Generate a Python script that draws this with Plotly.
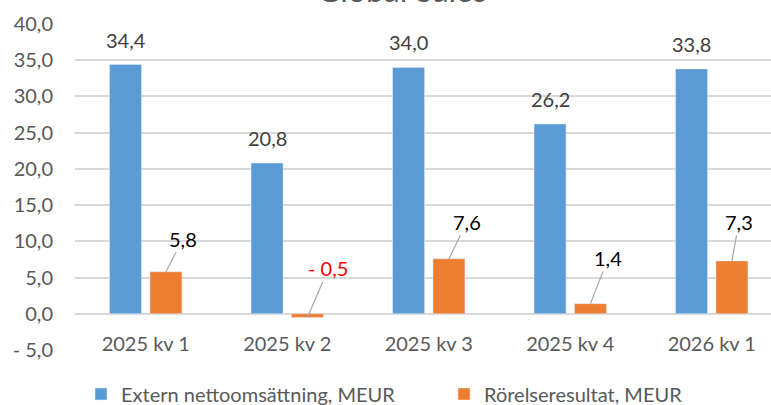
import plotly.graph_objects as go

# ---- data ----
categories = ["2025 kv 1", "2025 kv 2", "2025 kv 3", "2025 kv 4", "2026 kv 1"]
sales = [34.4, 20.8, 34.0, 26.2, 33.8]
ebit = [5.8, -0.5, 7.6, 1.4, 7.3]
sales_labels = ["34,4", "20,8", "34,0", "26,2", "33,8"]
ebit_labels = ["5,8", "- 0,5", "7,6", "1,4", "7,3"]
y_tick_vals = [-5, 0, 5, 10, 15, 20, 25, 30, 35, 40]
y_tick_text = ["- 5,0", "0,0", "5,0", "10,0", "15,0", "20,0", "25,0", "30,0", "35,0", "40,0"]
series_names = ["Extern nettoomsättning, MEUR", "Rörelseresultat, MEUR"]

# ---- style ----
BLUE = "#5B9BD5"
ORANGE = "#ED7D31"
GRID = "#D9D9D9"
TXT = "#595959"
FONT = "Lato, Open Sans, sans-serif"
W, H = 771, 405
# leader-label offsets in pixels (manual label placement)
ebit_label_dx = [17, 21, 18, 18, 7]
ebit_label_dy = [-33, -49, -37, -46, -39]
bar_shift = 20.2

plot_left, plot_top, plot_bottom = 75, 24, 350
ymin, ymax = -5, 40
ydom = [1 - plot_bottom / H, 1 - plot_top / H]
zero_pos = ydom[0] + (0 - ymin) / (ymax - ymin) * (ydom[1] - ydom[0])
cat_px = 141.5
x_hi = -0.5 + (W - plot_left) / cat_px

fig = go.Figure()
fig.add_trace(go.Bar(x=categories, y=sales, name=series_names[0], marker_color=BLUE,
                     legend="legend"))
fig.add_trace(go.Bar(x=categories, y=ebit, name=series_names[1], marker_color=ORANGE,
                     legend="legend2"))

ann = []
for c, v, t in zip(categories, sales, sales_labels):
    ann.append(dict(x=c, y=v, xref="x", yref="y", text=t, showarrow=False,
                    xshift=-bar_shift, yshift=25, yanchor="middle",
                    font=dict(family=FONT, size=20, color="#404040")))
for c, v, t, dx, dy in zip(categories, ebit, ebit_labels, ebit_label_dx, ebit_label_dy):
    ann.append(dict(x=c, y=v, xref="x", yref="y", text=t, showarrow=True,
                    arrowhead=0, arrowwidth=1.2, arrowcolor="#A6A6A6", standoff=0,
                    ax=dx, ay=dy, xshift=bar_shift,
                    font=dict(family=FONT, size=20, color="#FF0000" if v < 0 else "#000000")))
ann.append(dict(x=402 / W, y=1, xref="paper", yref="paper", text="Global Sales",
                showarrow=False, yanchor="bottom", yshift=-11,
                font=dict(family=FONT, size=32, color=TXT)))

leg_common = dict(orientation="h", y=1 - 394 / H, xanchor="left", yanchor="middle",
                  font=dict(family=FONT, size=20, color=TXT), bgcolor="rgba(0,0,0,0)")

fig.update_layout(
    width=W, height=H,
    margin=dict(l=0, r=0, t=0, b=0, autoexpand=False),
    paper_bgcolor="white", plot_bgcolor="white",
    barmode="group", bargap=0.429, bargroupgap=0.208,
    font=dict(family=FONT, size=20, color=TXT),
    xaxis=dict(type="category", domain=[plot_left / W, 1], range=[-0.5, x_hi],
               showgrid=False, showline=False, ticks="", anchor="free", position=zero_pos,
               automargin=False,
               tickfont=dict(family=FONT, size=20, color=TXT), ticklabelstandoff=16),
    yaxis=dict(domain=ydom, range=[ymin, ymax], tickvals=y_tick_vals, ticktext=y_tick_text,
               showgrid=True, gridcolor=GRID, gridwidth=1.5, automargin=False,
               zeroline=True, zerolinecolor=GRID, zerolinewidth=1.5,
               tickfont=dict(family=FONT, size=20, color=TXT), ticklabelstandoff=21),
    legend=dict(x=81 / W, **leg_common),
    legend2=dict(x=444 / W, **leg_common),
    annotations=ann,
    showlegend=True,
)

fig.write_html("out.html", config={"displayModeBar": False},
               post_script="document.body.style.margin='0';")
